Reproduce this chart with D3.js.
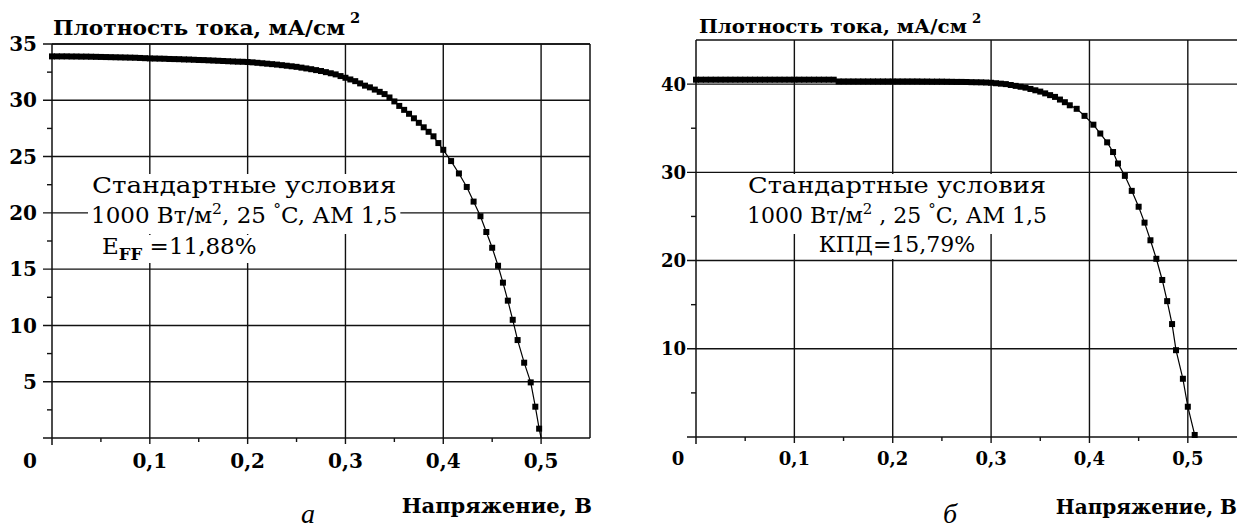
<!DOCTYPE html>
<html>
<head>
<meta charset="utf-8">
<script src="https://cdn.jsdelivr.net/npm/d3@7"></script>
<style>
body { margin: 0; background: #fff; }
svg { display: block; }
</style>
</head>
<body>
<script>
// --- values ---
var xTickValues = [0.1, 0.2, 0.3, 0.4, 0.5];
var xTickLabels = ["0,1", "0,2", "0,3", "0,4", "0,5"];
var xMinorTicks = [0.05, 0.15, 0.25, 0.35, 0.45];

// panel "а"
var yTicksA = [5, 10, 15, 20, 25, 30, 35];
var yMinorA = [2.5, 7.5, 12.5, 17.5, 22.5, 27.5, 32.5];
var voltsA = [0, 0.005, 0.01, 0.015, 0.02, 0.025, 0.03, 0.035, 0.04, 0.045, 0.05, 0.055, 0.06, 0.065, 0.07, 0.075,
  0.08, 0.085, 0.09, 0.095, 0.1, 0.105, 0.11, 0.115, 0.12, 0.125, 0.13, 0.135, 0.14, 0.145, 0.15, 0.155,
  0.16, 0.165, 0.17, 0.175, 0.18, 0.185, 0.19, 0.195, 0.2, 0.205, 0.21, 0.215, 0.22, 0.225, 0.23, 0.235,
  0.24, 0.245, 0.25, 0.255, 0.26, 0.265, 0.27, 0.275, 0.28, 0.285, 0.29, 0.295, 0.3, 0.305, 0.31, 0.315,
  0.32, 0.325, 0.33, 0.335, 0.34, 0.345, 0.35, 0.355, 0.36, 0.365, 0.37, 0.375, 0.38, 0.385, 0.39, 0.395,
  0.4, 0.408, 0.416, 0.424, 0.431, 0.438, 0.444, 0.45, 0.456, 0.461, 0.466, 0.471, 0.476, 0.4827, 0.4894,
  0.4941, 0.498];
var currentA = [33.9, 33.9, 33.9, 33.9, 33.89, 33.89, 33.88, 33.88, 33.87, 33.86, 33.85, 33.84, 33.83, 33.82, 33.81, 33.8,
  33.79, 33.78, 33.76, 33.74, 33.72, 33.71, 33.7, 33.69, 33.67, 33.66, 33.65, 33.63, 33.62, 33.6, 33.58, 33.57,
  33.55, 33.53, 33.51, 33.49, 33.47, 33.45, 33.43, 33.42, 33.4, 33.37, 33.33, 33.29, 33.25, 33.21, 33.17, 33.12,
  33.07, 33.02, 32.97, 32.9, 32.83, 32.76, 32.68, 32.6, 32.5, 32.4, 32.3, 32.15, 32.0, 31.85, 31.7, 31.5,
  31.3, 31.15, 30.95, 30.75, 30.55, 30.25, 29.9, 29.5, 29.15, 28.8, 28.4, 28.0, 27.6, 27.2, 26.8, 26.2,
  25.6, 24.6, 23.5, 22.3, 21.0, 19.7, 18.3, 16.9, 15.3, 13.8, 12.2, 10.5, 8.7, 6.69, 4.94,
  2.78, 0.83];
var endA = [0.5, 0];

// panel "б"
var yTicksB = [10, 20, 30, 40];
var yMinorB = [5, 15, 25, 35];
var voltsB = [0, 0.005, 0.01, 0.015, 0.02, 0.025, 0.03, 0.035, 0.04, 0.045, 0.05, 0.055, 0.06, 0.065, 0.07, 0.075,
  0.08, 0.085, 0.09, 0.095, 0.1, 0.105, 0.11, 0.115, 0.12, 0.125, 0.13, 0.135, 0.14, 0.145, 0.15, 0.155,
  0.16, 0.165, 0.17, 0.175, 0.18, 0.185, 0.19, 0.195, 0.2, 0.205, 0.21, 0.215, 0.22, 0.225, 0.23, 0.235,
  0.24, 0.245, 0.25, 0.255, 0.26, 0.265, 0.27, 0.275, 0.28, 0.285, 0.29, 0.295, 0.3, 0.305, 0.31, 0.315,
  0.32, 0.325, 0.33, 0.335, 0.34, 0.345, 0.35, 0.355, 0.36, 0.365, 0.37, 0.375, 0.38,
  0.387, 0.395, 0.404, 0.411, 0.418, 0.424, 0.429, 0.436, 0.443, 0.45, 0.456, 0.462, 0.468, 0.474, 0.479,
  0.484, 0.488, 0.495, 0.5, 0.507];
var currentB = [40.5, 40.5, 40.5, 40.5, 40.5, 40.5, 40.5, 40.5, 40.5, 40.5, 40.5, 40.5, 40.5, 40.5, 40.5, 40.5,
  40.5, 40.5, 40.5, 40.5, 40.5, 40.5, 40.5, 40.5, 40.5, 40.5, 40.5, 40.5, 40.5, 40.3, 40.3, 40.3,
  40.3, 40.3, 40.3, 40.3, 40.3, 40.3, 40.3, 40.3, 40.3, 40.3, 40.3, 40.3, 40.3, 40.3, 40.29, 40.29,
  40.28, 40.28, 40.28, 40.27, 40.26, 40.25, 40.25, 40.24, 40.22, 40.21, 40.2, 40.18, 40.15, 40.1, 40.05, 40.0,
  39.9, 39.8, 39.7, 39.6, 39.45, 39.3, 39.15, 38.95, 38.75, 38.55, 38.25, 37.95, 37.6,
  37.2, 36.4, 35.4, 34.4, 33.4, 32.3, 31.0, 29.6, 27.9, 26.1, 24.3, 22.3, 20.2, 17.8, 15.4,
  12.8, 9.84, 6.6, 3.43, 0.23];
var endB = [0.509, 0];

var W = 1237, H = 530;
var svg = d3.select("body").append("svg").attr("width", W).attr("height", H);

function drawPanel(o) {
  var g = svg.append("g");
  var x = d3.scaleLinear().domain([0, 0.55]).range(o.xr);
  var y = d3.scaleLinear().domain(o.yd).range(o.yr);
  var x0 = x(0), y0 = y(0), yTop = y(o.yd[1]), xEnd = x(0.55);
  var ink = "#111";
  var serif = "'DejaVu Serif', serif";

  // grid
  g.selectAll(".vg").data(xTickValues).enter().append("line")
    .attr("x1", function(d) { return x(d); }).attr("x2", function(d) { return x(d); })
    .attr("y1", yTop).attr("y2", y0 + 6)
    .attr("stroke", ink).attr("stroke-width", 1.4);
  g.selectAll(".hg").data(o.yTicks).enter().append("line")
    .attr("x1", x0 - 9).attr("x2", xEnd)
    .attr("y1", function(d) { return y(d); }).attr("y2", function(d) { return y(d); })
    .attr("stroke", ink).attr("stroke-width", 1.4);

  // frame / axes
  g.append("line").attr("x1", x0).attr("x2", x0).attr("y1", yTop).attr("y2", y0 + 7)
    .attr("stroke", ink).attr("stroke-width", 1.5);
  g.append("line").attr("x1", x0 - 9).attr("x2", xEnd).attr("y1", y0).attr("y2", y0)
    .attr("stroke", ink).attr("stroke-width", 1.5);
  g.append("line").attr("x1", x0).attr("x2", xEnd).attr("y1", yTop).attr("y2", yTop)
    .attr("stroke", ink).attr("stroke-width", 1.5);
  if (o.rightEdge) {
    g.append("line").attr("x1", xEnd).attr("x2", xEnd).attr("y1", yTop).attr("y2", y0)
      .attr("stroke", ink).attr("stroke-width", 1.5);
  }
  g.selectAll(".ym").data(o.yMinor).enter().append("line")
    .attr("x1", x0 - 5).attr("x2", x0)
    .attr("y1", function(d) { return y(d); }).attr("y2", function(d) { return y(d); })
    .attr("stroke", ink).attr("stroke-width", 1.4);
  g.selectAll(".xm").data(xMinorTicks).enter().append("line")
    .attr("x1", function(d) { return x(d); }).attr("x2", function(d) { return x(d); })
    .attr("y1", y0).attr("y2", y0 + 4)
    .attr("stroke", ink).attr("stroke-width", 1.4);

  // notes, each line on its own white box
  var notes = g.append("g");
  var texts = o.notes.map(function(line, i) {
    var t = notes.append("text")
      .attr("x", o.noteX[i]).attr("y", o.noteY[i])
      .attr("text-anchor", o.noteAnchor)
      .attr("font-family", serif)
      .attr("font-size", o.noteSize).attr("fill", "#000");
    line.forEach(function(seg) {
      var s = t.append("tspan").text(seg.t);
      if (seg.sup) s.attr("font-size", o.noteSize * 0.68).attr("dy", -o.noteSize * 0.4);
      if (seg.sub) s.attr("font-size", o.noteSize * 0.72).attr("font-weight", "bold").attr("dy", o.noteSize * 0.25);
      if (seg.back) s.attr("dy", seg.back * o.noteSize);
    });
    return t;
  });
  // first line is drawn as wide as the second one
  texts[0].attr("textLength", texts[1].node().getBBox().width - 2).attr("lengthAdjust", "spacingAndGlyphs");
  texts.forEach(function(t, i) {
    var bb = t.node().getBBox();
    var last = i === texts.length - 1;
    notes.insert("rect", "text")
      .attr("x", bb.x - 3).attr("y", o.noteY[i] - 19)
      .attr("width", bb.width + 6).attr("height", last ? o.lastBox : 30)
      .attr("fill", "#fff");
  });

  // curve: thin line through square markers
  var pts = o.volts.map(function(v, i) { return [v, o.current[i]]; });
  var line = d3.line().x(function(d) { return x(d[0]); }).y(function(d) { return y(d[1]); });
  g.append("path").datum(pts.concat([o.end])).attr("d", line)
    .attr("fill", "none").attr("stroke", "#000").attr("stroke-width", 1.2);
  g.selectAll(".mk").data(pts).enter().append("rect")
    .attr("x", function(d) { return x(d[0]) - 3; })
    .attr("y", function(d) { return y(d[1]) - 3; })
    .attr("width", 6).attr("height", 6).attr("fill", "#000");

  // tick labels
  g.selectAll(".yl").data(o.yTicks).enter().append("text")
    .attr("x", x0 - o.yLabelOff).attr("y", function(d) { return y(d); }).attr("dy", "0.36em")
    .attr("text-anchor", "end").attr("font-family", serif).attr("font-weight", "bold")
    .attr("font-size", o.tickSize).text(function(d) { return d; });
  g.selectAll(".xl").data(xTickValues).enter().append("text")
    .attr("x", function(d) { return x(d); }).attr("y", o.xLabelY)
    .attr("text-anchor", "middle").attr("font-family", serif).attr("font-weight", "bold")
    .attr("font-size", o.tickSize).text(function(d, i) { return xTickLabels[i]; });
  g.append("text").attr("x", x0 - o.zeroOff).attr("y", o.xLabelY)
    .attr("text-anchor", "middle").attr("font-family", serif).attr("font-weight", "bold")
    .attr("font-size", o.tickSize).text("0");

  // axis titles
  g.append("text").attr("x", o.titleX[0]).attr("y", o.titleY)
    .attr("font-family", serif).attr("font-weight", "bold").attr("font-size", o.titleSize)
    .attr("textLength", o.titleX[1] - o.titleX[0]).attr("lengthAdjust", "spacingAndGlyphs")
    .text("Плотность тока, мА/см");
  g.append("text").attr("x", o.titleX[1] + 5).attr("y", o.titleY - o.titleSize * 0.55)
    .attr("font-family", serif).attr("font-weight", "bold").attr("font-size", o.titleSize * 0.7)
    .text("2");
  g.append("text").attr("x", o.xTitleX).attr("y", o.xTitleY).attr("text-anchor", "end")
    .attr("font-family", serif).attr("font-weight", "bold").attr("font-size", o.xTitleSize)
    .text("Напряжение, В");

  // panel letter
  g.append("text").attr("x", o.capX).attr("y", 523).attr("text-anchor", "middle")
    .attr("font-family", "'Liberation Serif', serif").attr("font-style", "italic")
    .attr("font-size", 28).text(o.cap);
}

drawPanel({
  xr: [52, 590], yd: [0, 35], yr: [438, 44],
  yTicks: yTicksA, yMinor: yMinorA, volts: voltsA, current: currentA, end: endA,
  rightEdge: true, tickSize: 20, titleSize: 21, xTitleSize: 21, zeroOff: 22, xLabelY: 468, yLabelOff: 15,
  titleX: [53, 345], titleY: 35, xTitleX: 592, xTitleY: 513, capX: 308, cap: "а",
  noteSize: 23, noteAnchor: "start", noteX: [92, 91, 102], noteY: [193, 223, 254], lastBox: 28,
  notes: [
    [{ t: "Стандартные условия" }],
    [{ t: "1000 Вт/м" }, { t: "2", sup: true }, { t: ", 25 ", back: 0.4 }, { t: "°", sup: true }, { t: "C, АМ 1,5", back: 0.4 }],
    [{ t: "E" }, { t: "FF", sub: true }, { t: " =11,88%", back: -0.25 }]
  ]
});

drawPanel({
  xr: [696, 1237], yd: [0, 45], yr: [437, 40],
  yTicks: yTicksB, yMinor: yMinorB, volts: voltsB, current: currentB, end: endB,
  rightEdge: false, tickSize: 18, titleSize: 19, xTitleSize: 20, zeroOff: 18, xLabelY: 465, yLabelOff: 10,
  titleX: [699, 967], titleY: 33, xTitleX: 1237, xTitleY: 514, capX: 950, cap: "б",
  noteSize: 22, noteAnchor: "middle", noteX: [897, 897, 897], noteY: [193, 223, 252], lastBox: 26,
  notes: [
    [{ t: "Стандартные условия" }],
    [{ t: "1000 Вт/м" }, { t: "2", sup: true }, { t: " , 25 ", back: 0.4 }, { t: "°", sup: true }, { t: "C, АМ 1,5", back: 0.4 }],
    [{ t: "КПД=15,79%" }]
  ]
});
</script>
</body>
</html>
